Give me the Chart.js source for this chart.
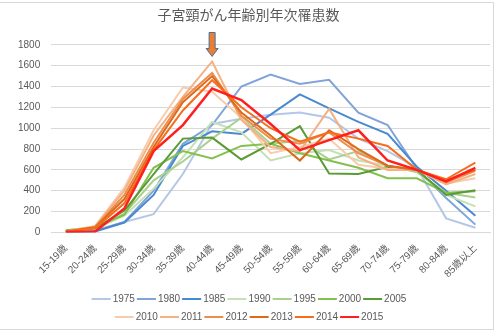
<!DOCTYPE html>
<html>
<head>
<meta charset="utf-8">
<script src="https://cdn.jsdelivr.net/npm/chart.js@4"></script>
<style>
  html, body { margin: 0; padding: 0; background: #fff; }
  #frame { position: absolute; left: -1px; top: 2px; width: 493px; height: 326px; border: 1px solid #d9d9d9; }
  #wrap { position: absolute; left: 0; top: 0; width: 500px; height: 331px; }
</style>
</head>
<body>
<div id="frame"></div>
<div id="wrap"><canvas id="chart"></canvas></div>
<script>
const ageGroups = ['15-19歳', '20-24歳', '25-29歳', '30-34歳', '35-39歳', '40-44歳', '45-49歳',
  '50-54歳', '55-59歳', '60-64歳', '65-69歳', '70-74歳', '75-79歳', '80-84歳', '85歳以上'];

const years = ['1975', '1980', '1985', '1990', '1995', '2000', '2005',
  '2010', '2011', '2012', '2013', '2014', '2015'];

const cases1975 = [5, 20, 100, 175, 560, 1040, 1090, 1130, 1150, 1100, 900, 780, 620, 135, 45];
const cases1980 = [5, 15, 100, 400, 850, 1030, 1400, 1515, 1425, 1465, 1150, 1030, 610, 330, 75];
const cases1985 = [5, 10, 95, 360, 830, 970, 945, 1130, 1325, 1190, 1060, 945, 630, 400, 160];
const cases1990 = [15, 35, 160, 420, 720, 1060, 960, 690, 760, 790, 690, 640, 580, 360, 250];
const cases1995 = [15, 40, 180, 500, 680, 900, 1100, 850, 880, 700, 780, 640, 580, 380, 335];
const cases2000 = [20, 50, 170, 620, 780, 710, 830, 850, 760, 690, 620, 520, 520, 380, 395];
const cases2005 = [15, 40, 210, 560, 900, 910, 700, 850, 1020, 565, 560, 630, 600, 360, 405];
const cases2010 = [10, 60, 430, 980, 1390, 1350, 1100, 760, 820, 900, 650, 610, 600, 470, 520];
const cases2011 = [10, 60, 400, 930, 1300, 1640, 1080, 820, 780, 1185, 720, 600, 600, 460, 560];
const cases2012 = [10, 50, 360, 860, 1280, 1530, 1120, 900, 850, 960, 760, 640, 600, 480, 590];
const cases2013 = [10, 50, 320, 820, 1250, 1500, 1150, 930, 690, 980, 800, 640, 600, 500, 600];
const cases2014 = [10, 40, 280, 790, 1170, 1460, 1200, 1000, 870, 960, 900, 830, 600, 510, 670];
const cases2015 = [5, 10, 230, 780, 1030, 1380, 1270, 1040, 790, 885, 980, 690, 600, 490, 620];

const yTicks = [0, 200, 400, 600, 800, 1000, 1200, 1400, 1600, 1800];

const seriesValues = [cases1975, cases1980, cases1985, cases1990, cases1995, cases2000, cases2005,
  cases2010, cases2011, cases2012, cases2013, cases2014, cases2015];

const colors = ['#b4c7e7', '#7fa3da', '#4a89cf', '#c5e0b4', '#a9d18e', '#84c050', '#5b9b35',
  '#f8cbad', '#f4b183', '#ef8c4c', '#dd6a1c', '#f76d1b', '#ff1f1f'];

const fontFamily = "'Liberation Sans', 'Noto Sans CJK JP', sans-serif";
Chart.defaults.font.family = fontFamily;
Chart.defaults.color = '#595959';

// arrow over the peak age group
const peakArrow = {
  id: 'peakArrow',
  afterDatasetsDraw(chart) {
    const ctx = chart.ctx;
    const x = chart.scales.x.getPixelForValue(ageGroups.indexOf('40-44歳'));
    const tip = chart.scales.y.getPixelForValue(Math.max(...cases2011)) - 5;
    ctx.save();
    ctx.beginPath();
    ctx.moveTo(x - 3, tip - 24);
    ctx.lineTo(x + 3, tip - 24);
    ctx.lineTo(x + 3, tip - 8);
    ctx.lineTo(x + 6, tip - 8);
    ctx.lineTo(x, tip);
    ctx.lineTo(x - 6, tip - 8);
    ctx.lineTo(x - 3, tip - 8);
    ctx.closePath();
    ctx.fillStyle = '#ed7d31';
    ctx.fill();
    ctx.strokeStyle = '#41719c';
    ctx.lineWidth = 1;
    ctx.stroke();
    ctx.restore();
  }
};

// two-row legend with short line samples
const lineLegend = {
  id: 'lineLegend',
  afterDraw(chart) {
    const ctx = chart.ctx;
    const rows = [[0, 7], [7, 13]];
    ctx.save();
    ctx.font = '10px ' + fontFamily;
    ctx.textBaseline = 'middle';
    rows.forEach(([a, b], r) => {
      const y = chart.height - 32 + r * 18;
      const items = years.slice(a, b).map((label, k) => ({ label, i: a + k, w: 19 + 2 + ctx.measureText(label).width + 2 }));
      const total = items.reduce((s, it) => s + it.w, 0);
      let x = (chart.width - total) / 2;
      items.forEach(it => {
        ctx.strokeStyle = colors[it.i];
        ctx.lineWidth = 2;
        ctx.beginPath();
        ctx.moveTo(x, y);
        ctx.lineTo(x + 19, y);
        ctx.stroke();
        ctx.fillStyle = '#595959';
        ctx.fillText(it.label, x + 21, y);
        x += it.w;
      });
    });
    ctx.restore();
  }
};

new Chart(document.getElementById('chart'), {
  type: 'line',
  data: {
    labels: ageGroups,
    datasets: years.map((year, i) => ({
      label: year,
      data: seriesValues[i],
      borderColor: colors[i],
      backgroundColor: colors[i],
      borderWidth: i === 12 ? 2.5 : 2,
      pointRadius: 0,
      tension: 0,
      order: years.length - i
    }))
  },
  options: {
    responsive: true,
    maintainAspectRatio: false,
    animation: false,
    layout: { padding: { left: 7, right: 10, top: 0, bottom: 49 } },
    plugins: {
      legend: { display: false },
      tooltip: { enabled: false },
      title: {
        display: true,
        text: '子宮頸がん年齢別年次罹患数',
        color: '#595959',
        font: { size: 14, weight: 'normal' },
        padding: { top: 8, bottom: 20 }
      }
    },
    scales: {
      x: {
        offset: true,
        grid: { display: false },
        border: { color: '#d9d9d9' },
        ticks: { autoSkip: false, minRotation: 45, maxRotation: 45, font: { size: 10 }, color: '#595959', padding: 2 }
      },
      y: {
        min: 0,
        max: yTicks[yTicks.length - 1],
        afterBuildTicks(scale) { scale.ticks = yTicks.map(v => ({ value: v })); },
        grid: { color: '#d9d9d9', drawTicks: false },
        border: { display: false },
        ticks: { font: { size: 10 }, color: '#595959', padding: 11, callback: v => String(v) }
      }
    }
  },
  plugins: [peakArrow, lineLegend]
});
</script>
</body>
</html>
